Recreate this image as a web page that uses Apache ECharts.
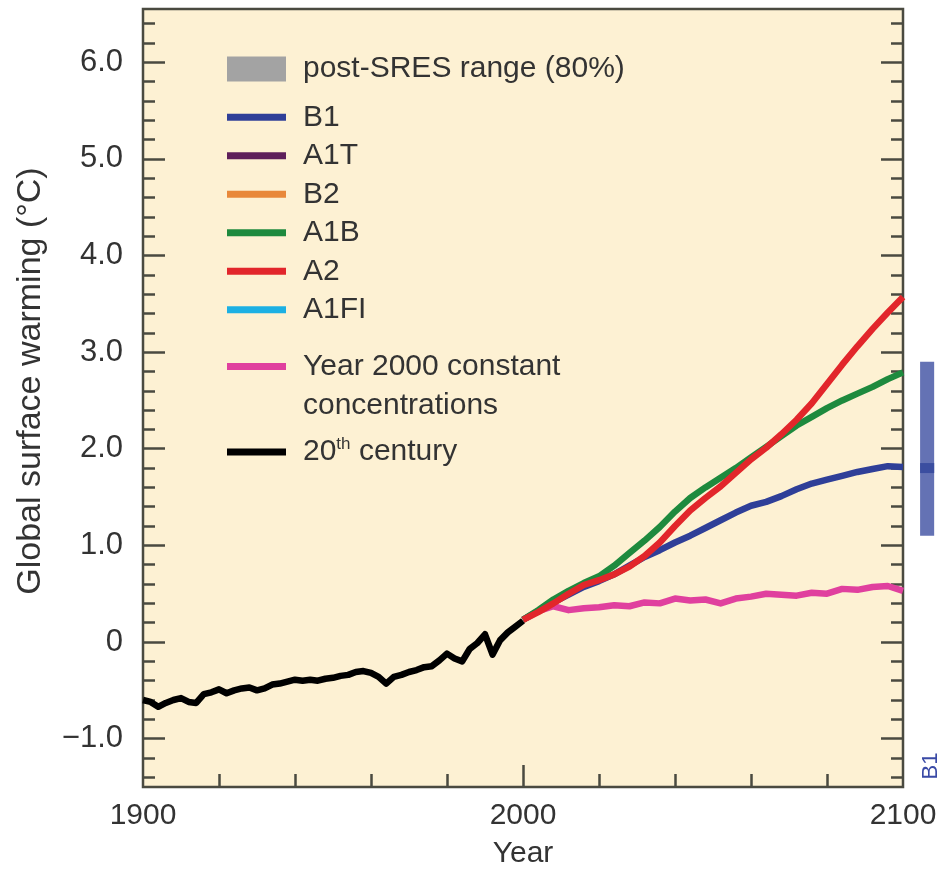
<!DOCTYPE html>
<html>
<head>
<meta charset="utf-8">
<title>Global surface warming</title>
<script src="https://cdn.jsdelivr.net/npm/echarts@6/dist/echarts.min.js"></script>
<style>
  html, body { margin: 0; padding: 0; background: #fff; }
  #chart { width: 946px; height: 872px; }
</style>
</head>
<body>
<div id="chart"></div>
<script>
const histYears = [1900, 1902, 1904, 1906, 1908, 1910, 1912, 1914, 1916, 1918,
  1920, 1922, 1924, 1926, 1928, 1930, 1932, 1934, 1936, 1938,
  1940, 1942, 1944, 1946, 1948, 1950, 1952, 1954, 1956, 1958,
  1960, 1962, 1964, 1966, 1968, 1970, 1972, 1974, 1976, 1978,
  1980, 1982, 1984, 1986, 1988, 1990, 1992, 1994, 1996, 1998, 2000]
const histTemp = [-0.60, -0.62, -0.67, -0.63, -0.60, -0.58, -0.62, -0.63, -0.54, -0.52,
  -0.49, -0.53, -0.50, -0.48, -0.47, -0.50, -0.48, -0.44, -0.43, -0.41,
  -0.39, -0.40, -0.39, -0.40, -0.38, -0.37, -0.35, -0.34, -0.31, -0.30,
  -0.32, -0.36, -0.43, -0.36, -0.34, -0.31, -0.29, -0.26, -0.25, -0.19,
  -0.12, -0.17, -0.20, -0.07, -0.01, 0.08, -0.13, 0.02, 0.10, 0.16, 0.22]

// scenario projections (every 4 years)
const projYears = [2000, 2004, 2008, 2012, 2016, 2020, 2024, 2028, 2032, 2036,
  2040, 2044, 2048, 2052, 2056, 2060, 2064, 2068, 2072, 2076,
  2080, 2084, 2088, 2092, 2096, 2100]
const b1 = [0.23, 0.32, 0.41, 0.49, 0.57, 0.63, 0.70, 0.79, 0.88, 0.95,
  1.03, 1.10, 1.18, 1.26, 1.34, 1.41, 1.45, 1.51, 1.58, 1.64,
  1.68, 1.72, 1.76, 1.79, 1.82, 1.81]
const a1b = [0.23, 0.33, 0.44, 0.53, 0.61, 0.68, 0.79, 0.92, 1.05, 1.19,
  1.35, 1.49, 1.60, 1.70, 1.80, 1.91, 2.02, 2.13, 2.24, 2.33,
  2.42, 2.50, 2.57, 2.64, 2.72, 2.79]
const a2 = [0.23, 0.31, 0.40, 0.50, 0.59, 0.64, 0.70, 0.78, 0.89, 1.03,
  1.20, 1.36, 1.49, 1.61, 1.75, 1.89, 2.01, 2.15, 2.30, 2.47,
  2.67, 2.87, 3.06, 3.24, 3.41, 3.57]
const commit = [0.23, 0.32, 0.37, 0.33, 0.35, 0.36, 0.38, 0.37, 0.41, 0.40,
  0.45, 0.43, 0.44, 0.40, 0.45, 0.47, 0.50, 0.49, 0.48, 0.51,
  0.50, 0.55, 0.54, 0.57, 0.58, 0.53]

// B1 likely range bar drawn right of the panel
const b1BarYears = [2104.5, 2108.2]
const b1Range = [1.1, 2.9]
const b1Best = 1.8

// ticks and labels
const xLabels = [1900, 2000, 2100]
const xMinorTicks = [1920, 1940, 1960, 1980, 2020, 2040, 2060, 2080]
const xMajorTicks = [2000]
const yMajor = [-1, 0, 1, 2, 3, 4, 5, 6]
const yMinor = [-1.4, -1.2, -0.8, -0.6, -0.4, -0.2, 0.2, 0.4, 0.6, 0.8,
  1.2, 1.4, 1.6, 1.8, 2.2, 2.4, 2.6, 2.8, 3.2, 3.4, 3.6, 3.8,
  4.2, 4.4, 4.6, 4.8, 5.2, 5.4, 5.6, 5.8, 6.2, 6.4]

const FONT = 'Liberation Sans, Arial, sans-serif'
const TXT = '#333333'
const AXIS = '#4a4a40'
const pair = (xs, ys) => xs.map((x, i) => [x, ys[i]])

const baseText = { color: TXT, fontSize: 30, fontFamily: FONT }
const tickStyle = { color: AXIS, width: 2.5 }
const lineOpts = { symbol: 'none', lineStyle: { width: 6.5, join: 'round' } }

function yAxisOf(position, length, ticks, extra) {
  return Object.assign({
    type: 'value', min: -1.5, max: 6.55, position,
    axisLine: { show: false, onZero: false },
    splitLine: { show: false },
    axisTick: { show: true, inside: true, length, customValues: ticks, lineStyle: tickStyle },
    axisLabel: { show: false }
  }, extra)
}

const chart = echarts.init(document.getElementById('chart'))
chart.setOption({
  backgroundColor: '#ffffff',
  animation: false,
  textStyle: { fontFamily: FONT },
  grid: {
    left: 143, right: 43, top: 9, bottom: 85,
    show: true, backgroundColor: '#fdf1d3',
    borderColor: AXIS, borderWidth: 2.5,
    outerBoundsMode: 'none'
  },
  xAxis: [{
    type: 'value', min: 1900, max: 2100, position: 'bottom',
    axisLine: { show: false, onZero: false }, splitLine: { show: false },
    axisTick: { show: true, inside: true, length: 13, customValues: xMinorTicks, lineStyle: tickStyle },
    axisLabel: { customValues: xLabels, margin: 14, ...baseText, formatter: v => String(v) },
    name: 'Year', nameLocation: 'middle', nameGap: 52,
    nameTextStyle: { ...baseText }
  }, {
    type: 'value', min: 1900, max: 2100, position: 'bottom',
    axisLine: { show: false, onZero: false }, splitLine: { show: false },
    axisTick: { show: true, inside: true, length: 22, customValues: xMajorTicks, lineStyle: tickStyle },
    axisLabel: { show: false }
  }],
  yAxis: [
    yAxisOf('left', 22, yMajor, {
      axisLabel: {
        show: true, customValues: yMajor, margin: 20, ...baseText, fontSize: 31,
        formatter: v => v === 0 ? '0' : (v < 0 ? '\u2212' + Math.abs(v).toFixed(1) : v.toFixed(1))
      },
      name: 'Global surface warming (\u00b0C)', nameLocation: 'middle', nameRotate: 90, nameGap: 95,
      nameTextStyle: { ...baseText, fontSize: 34, padding: [0, 0, 0, 34] }
    }),
    yAxisOf('left', 12, yMinor),
    yAxisOf('right', 22, yMajor),
    yAxisOf('right', 12, yMinor)
  ],
  legend: [{
    data: ['post-SRES range (80%)'],
    left: 227, top: 53, padding: 0, icon: 'rect', itemWidth: 59, itemHeight: 25,
    selectedMode: false,
    textStyle: { ...baseText, lineHeight: 32, padding: [0, 0, 0, 12] }
  }, {
    data: ['B1', 'A1T', 'B2', 'A1B', 'A2', 'A1FI'],
    orient: 'vertical', left: 227, top: 101, padding: 0, icon: 'rect',
    itemWidth: 59, itemHeight: 7, itemGap: 6, selectedMode: false,
    textStyle: { ...baseText, lineHeight: 32.5, padding: [0, 0, 0, 12] }
  }, {
    data: ['Year 2000 constant concentrations'],
    left: 227, top: 308, padding: 0, icon: 'rect', itemWidth: 59, itemHeight: 7,
    selectedMode: false,
    formatter: () => '\nYear 2000 constant\nconcentrations',
    textStyle: { ...baseText, lineHeight: 39, padding: [0, 0, 0, 12] }
  }, {
    data: ['20th century'],
    left: 227, top: 436, padding: 0, icon: 'rect', itemWidth: 59, itemHeight: 7,
    selectedMode: false,
    formatter: () => '20{sup|th} century',
    textStyle: {
      ...baseText, lineHeight: 32, padding: [0, 0, 0, 12],
      rich: { sup: { fontSize: 17, fontFamily: FONT, color: TXT, verticalAlign: 'top', lineHeight: 32 } }
    }
  }],
  series: [
    { name: 'post-SRES range (80%)', type: 'line', color: '#a3a3a3', data: [] },
    { name: 'A1T', type: 'line', color: '#5e1f5a', data: [] },
    { name: 'B2', type: 'line', color: '#e8883a', data: [] },
    { name: 'A1FI', type: 'line', color: '#1cb0e3', data: [] },
    { name: 'Year 2000 constant concentrations', type: 'line', color: '#e0409e', ...lineOpts, data: pair(projYears, commit) },
    { name: 'B1', type: 'line', color: '#2f3f98', ...lineOpts, data: pair(projYears, b1) },
    { name: 'A1B', type: 'line', color: '#1e8a3e', ...lineOpts, data: pair(projYears, a1b) },
    { name: 'A2', type: 'line', color: '#e2262b', ...lineOpts, data: pair(projYears, a2) },
    { name: '20th century', type: 'line', color: '#000000', ...lineOpts, data: pair(histYears, histTemp) },
    {
      type: 'custom', clip: false, silent: true,
      encode: { x: [0, 1], y: [2, 3, 4] },
      data: [[b1BarYears[0], b1BarYears[1], b1Range[0], b1Range[1], b1Best]],
      renderItem: (params, api) => {
        const tl = api.coord([api.value(0), api.value(3)])
        const br = api.coord([api.value(1), api.value(2)])
        const mid = api.coord([api.value(0), api.value(4)])
        return {
          type: 'group',
          children: [
            { type: 'rect', shape: { x: tl[0], y: tl[1], width: br[0] - tl[0], height: br[1] - tl[1] },
              style: { fill: '#6472b4' } },
            { type: 'rect', shape: { x: tl[0], y: mid[1] - 5, width: br[0] - tl[0], height: 10 },
              style: { fill: '#3b4ea0' } }
          ]
        }
      }
    }
  ],
  graphic: [
    { type: 'text', x: 931, y: 766, rotation: Math.PI / 2, z: 10,
      style: { text: 'B1', fontSize: 22, fontFamily: FONT, fill: '#3a4aa6', align: 'center', verticalAlign: 'middle' } },
    { type: 'rect', x: 938, y: 700, z: 20, shape: { width: 8, height: 100 }, style: { fill: '#ffffff' } }
  ]
})
</script>
</body>
</html>
